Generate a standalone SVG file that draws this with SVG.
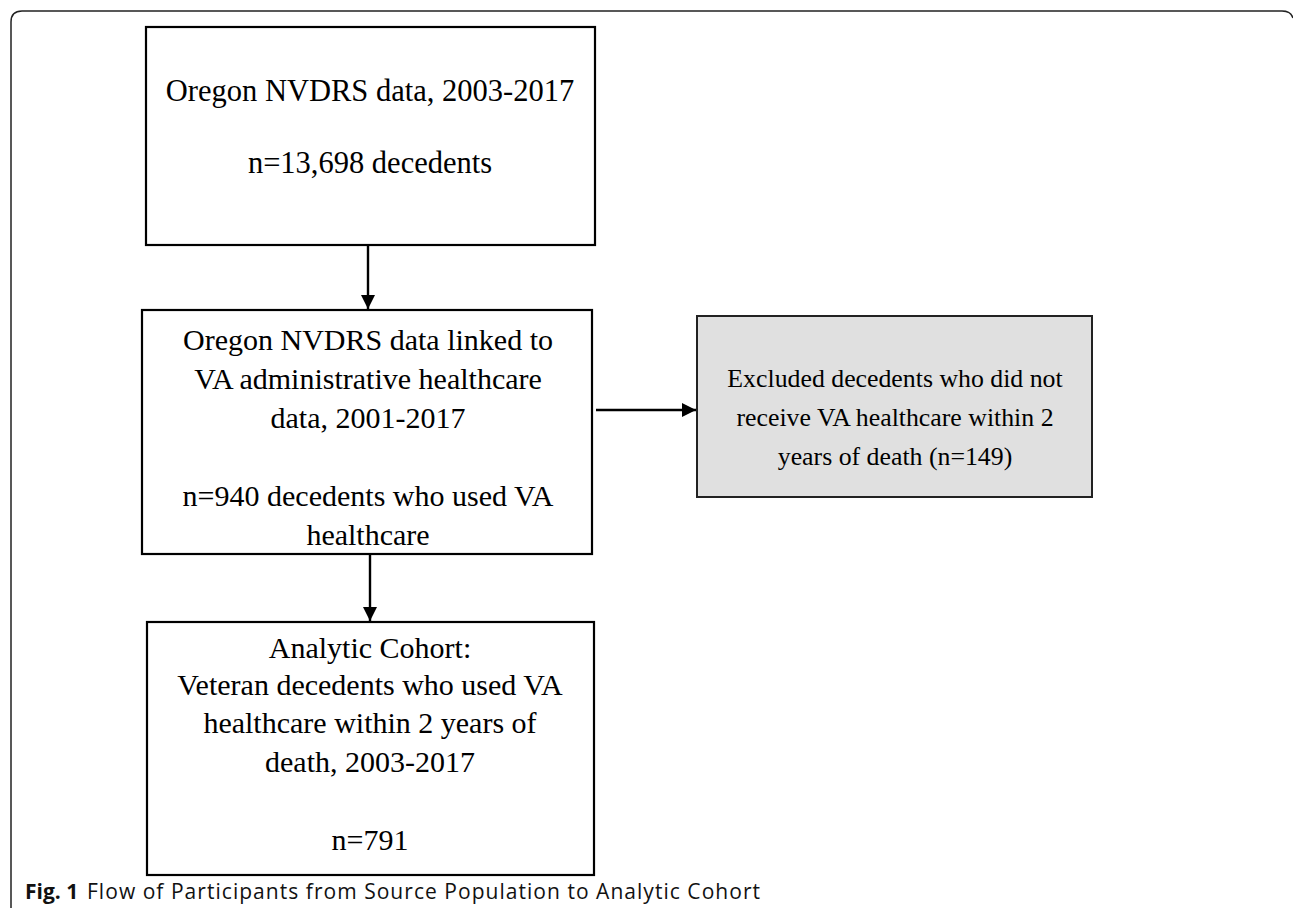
<svg xmlns="http://www.w3.org/2000/svg" width="1293" height="908" viewBox="0 0 1293 908">
<style>
.box{fill:#fff;stroke:#000;stroke-width:2.2}
.grey{fill:#e0e0e0;stroke:#222;stroke-width:2}
.t{font-family:"Liberation Serif","Times New Roman",serif;font-size:30px;fill:#000;text-anchor:middle}
.t4{font-size:25.8px}
.conn{stroke:#000;stroke-width:2.4;fill:none}
.cap{font-family:"Open Sans","Liberation Sans",sans-serif;font-size:21px;fill:#111}
</style>
<defs>
<marker id="ah" viewBox="0 0 10 10" refX="10" refY="5" markerWidth="14" markerHeight="14" markerUnits="userSpaceOnUse" orient="auto">
<path d="M0,0 L10,5 L0,10 Z" fill="#000"/>
</marker>
</defs>
<rect width="1293" height="908" fill="#fff"/>
<path d="M11,908 V22 Q11,11 22,11 H1282 Q1291,11 1293,18" fill="none" stroke="#222" stroke-width="1.5"/>
<g id="n1">
<rect class="box" x="146" y="27" width="449" height="218"/>
<text class="t" x="370" y="101" style="font-size:30.5px">Oregon NVDRS data, 2003-2017</text>
<text class="t" x="370" y="173" style="font-size:30.5px">n=13,698 decedents</text>
</g>
<g id="n2">
<rect class="box" x="142" y="310" width="450" height="244"/>
<text class="t" x="368" y="350">Oregon NVDRS data linked to</text>
<text class="t" x="368" y="389">VA administrative healthcare</text>
<text class="t" x="368" y="428">data, 2001-2017</text>
<text class="t" x="368" y="506">n=940 decedents who used VA</text>
<text class="t" x="368" y="545">healthcare</text>
</g>
<g id="n3">
<rect class="box" x="147" y="622" width="447" height="253"/>
<text class="t" x="370" y="658">Analytic Cohort:</text>
<text class="t" x="370" y="695">Veteran decedents who used VA</text>
<text class="t" x="370" y="733">healthcare within 2 years of</text>
<text class="t" x="370" y="772">death, 2003-2017</text>
<text class="t" x="370" y="850">n=791</text>
</g>
<g id="n4">
<rect class="grey" x="697" y="316" width="395" height="181"/>
<text class="t t4" x="895" y="387">Excluded decedents who did not</text>
<text class="t t4" x="895" y="426">receive VA healthcare within 2</text>
<text class="t t4" x="895" y="465">years of death (n=149)</text>
</g>
<g id="connectors">
<line class="conn" x1="368" y1="245" x2="368" y2="309" marker-end="url(#ah)"/>
<line class="conn" x1="370" y1="555" x2="370" y2="621" marker-end="url(#ah)"/>
<line class="conn" x1="596" y1="410" x2="696" y2="410" marker-end="url(#ah)"/>
</g>
<g id="caption">
<text class="cap" x="25" y="899"><tspan font-weight="bold">Fig. 1</tspan><tspan x="87" textLength="673" lengthAdjust="spacing">Flow of Participants from Source Population to Analytic Cohort</tspan></text>
</g>
</svg>
